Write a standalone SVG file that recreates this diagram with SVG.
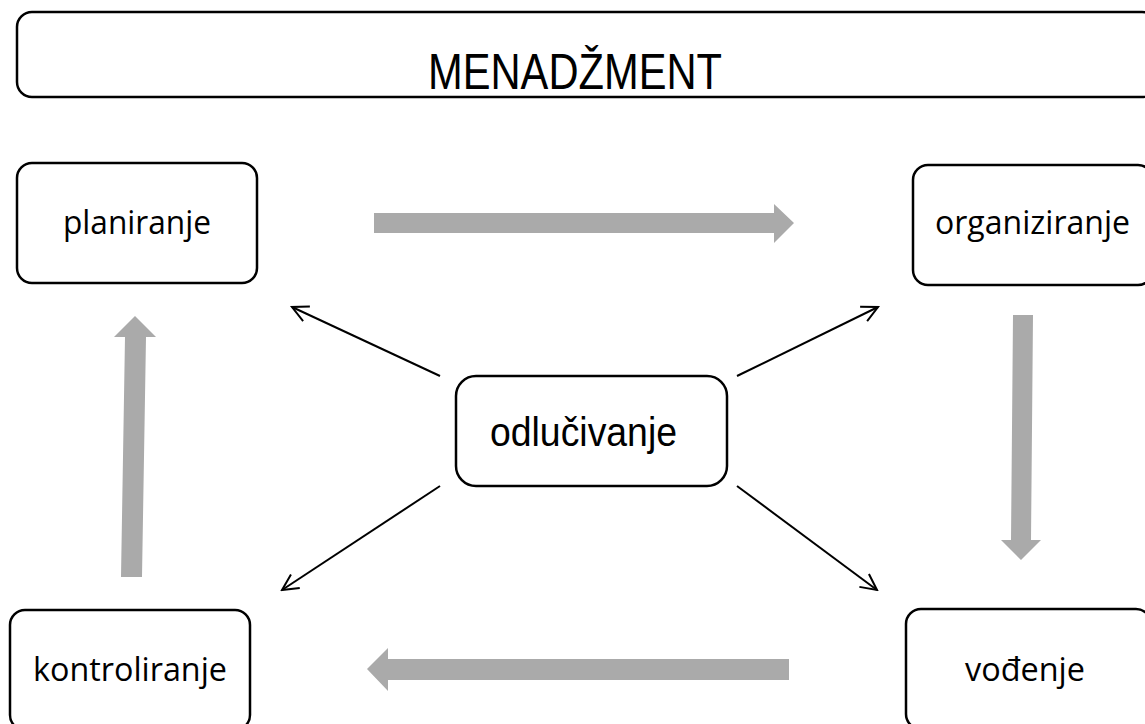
<svg xmlns="http://www.w3.org/2000/svg" width="1145" height="724" viewBox="0 0 1145 724">
<defs>
<style>
.box{fill:#fff;stroke:#000;stroke-width:2.5}
.lbl{font-family:"Open Sans","Liberation Sans",sans-serif;font-size:33px;fill:#000}
.ar{font-family:"Liberation Sans",Arial,sans-serif;fill:#000}
.big{fill:#aaaaaa}
.thin{stroke:#000;stroke-width:2;fill:none}
</style>
<marker id="open" viewBox="0 0 20 20" refX="18" refY="10" markerWidth="20" markerHeight="20" markerUnits="userSpaceOnUse" orient="auto">
<path d="M2,2 L18,10 L2,18" fill="none" stroke="#000" stroke-width="2"/>
</marker>
</defs>
<rect width="1145" height="724" fill="#fff"/>
<g id="menadzment">
<rect class="box" x="17" y="12" width="1140" height="85" rx="15"/>
<text class="ar" x="428" y="89" font-size="50" textLength="294" lengthAdjust="spacingAndGlyphs">MENADŽMENT</text>
</g>
<g id="planiranje">
<rect class="box" x="17" y="163" width="240" height="120" rx="15"/>
<text class="lbl" x="63" y="234" textLength="148" lengthAdjust="spacingAndGlyphs">planiranje</text>
</g>
<g id="organiziranje">
<rect class="box" x="913" y="165" width="240" height="120" rx="15"/>
<text class="lbl" x="935" y="234" textLength="195" lengthAdjust="spacingAndGlyphs">organiziranje</text>
</g>
<g id="odlucivanje">
<rect class="box" x="456" y="376" width="271" height="110" rx="20"/>
<text class="ar" x="490" y="446" font-size="40" textLength="187" lengthAdjust="spacingAndGlyphs">odlučivanje</text>
</g>
<g id="kontroliranje">
<rect class="box" x="10" y="610" width="240" height="120" rx="15"/>
<text class="lbl" x="33" y="681" textLength="194" lengthAdjust="spacingAndGlyphs">kontroliranje</text>
</g>
<g id="vodenje">
<rect class="box" x="906" y="609" width="245" height="120" rx="15"/>
<text class="lbl" x="965" y="681" textLength="120" lengthAdjust="spacingAndGlyphs">vođenje</text>
</g>
<g id="connectors">
<polygon class="big" points="374,213 774,213 774,204 794,223 774,243 774,233 374,233"/>
<polygon class="big" points="1013,315 1033,315 1031,540 1041,540 1021,560 1001,540 1011,540"/>
<polygon class="big" points="789,659 789,680 388,680 388,691 367,669 388,648 388,659"/>
<polygon class="big" points="121,577 142,577 146,337 156,337 135,316 114,337 125,337"/>
<line class="thin" x1="440" y1="376" x2="292" y2="307" marker-end="url(#open)"/>
<line class="thin" x1="737" y1="376" x2="878" y2="307" marker-end="url(#open)"/>
<line class="thin" x1="440" y1="486" x2="282" y2="590" marker-end="url(#open)"/>
<line class="thin" x1="737" y1="486" x2="877" y2="590" marker-end="url(#open)"/>
</g>
</svg>
